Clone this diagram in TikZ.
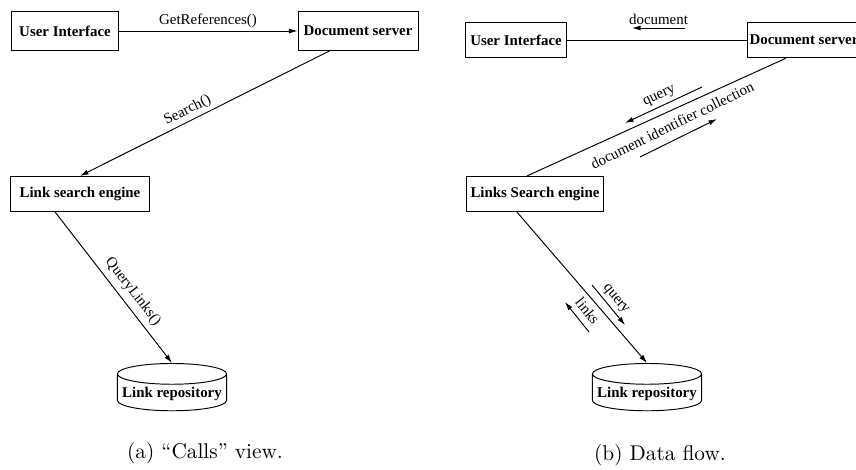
\documentclass[tikz,border=0pt]{standalone}
\usepackage{fontspec}
\usepackage{tikz}
\usetikzlibrary{shapes.geometric, arrows.meta, positioning, calc}
\newfontfamily\diagfont{Liberation Serif}
\tikzset{
  comp/.style={rectangle, draw, font=\diagfont\fontsize{7}{8.4}\selectfont\bfseries,
    inner sep=1pt, line width=0.45pt},
  repo/.style={cylinder, shape border rotate=90, draw, aspect=0.2,
    minimum width=1.8cm, minimum height=0.78cm,
    font=\diagfont\fontsize{7}{8.4}\selectfont\bfseries, inner sep=1pt, line width=0.45pt},
  call/.style={-{Latex[length=4pt, width=2.4pt]}, line width=0.45pt},
  link/.style={line width=0.45pt},
  lbl/.style={font=\diagfont\fontsize{7}{8.4}\selectfont, inner sep=1.5pt},
  caption/.style={font=\normalsize}
}
\begin{document}
\begin{tikzpicture}[x=0.0165cm, y=-0.0165cm]
  \useasboundingbox (0,0) rectangle (856,470);

  % (a) Calls view
  \node[comp, minimum width=1.75cm, minimum height=0.63cm] (uia) at (65,31) {User Interface};
  \node[comp, minimum width=1.98cm, minimum height=0.64cm] (dsa) at (358,31) {Document server};
  \node[comp, minimum width=2.29cm, minimum height=0.58cm] (lsea) at (80,194) {Link search engine};
  \node[repo] (repoa) at (172,394) {Link repository};
  \node[caption] (capa) at (205,453) {(a) ``Calls'' view.};

  \draw[call] (uia) -- node[lbl, above] {GetReferences()} (dsa);
  \draw[call] (dsa.215) -- node[lbl, above, sloped, pos=0.55] {Search()} (lsea.north);
  \draw[call] (lsea.216) -- node[lbl, above=1pt, sloped, pos=0.58] {QueryLinks()} (repoa.north);

  % (b) Data flow
  \node[comp, minimum width=1.67cm, minimum height=0.59cm] (uib) at (516,40) {User Interface};
  \node[comp, minimum width=1.77cm, minimum height=0.59cm] (dsb) at (804,40) {Document server};
  \node[comp, minimum width=2.26cm, minimum height=0.58cm] (lseb) at (535,194) {Links Search engine};
  \node[repo] (repob) at (647,394) {Link repository};
  \node[caption] (capb) at (660,455) {(b) Data flow.};

  \draw[link] (uib) -- (dsb);
  \draw[link] (dsb.225) -- (lseb.114);
  \draw[call] (lseb.225) -- (repob.north);

  % flow arrows
  \coordinate (docs) at (685,28);
  \coordinate (doce) at (632,28);
  \coordinate (qs) at (702,87);
  \coordinate (qe) at (625,123);
  \coordinate (ids) at (640,157);
  \coordinate (ide) at (717,119);
  \coordinate (lqs) at (592,285);
  \coordinate (lqe) at (625,325);
  \coordinate (lks) at (589,332);
  \coordinate (lke) at (565,302);

  \draw[call] (docs) -- node[lbl, above] {document} (doce);
  \draw[call] (qs) -- node[lbl, above, sloped] {query} (qe);
  \draw[call] (ids) -- node[lbl, above=2.5pt, sloped] {document identifier collection} (ide);
  \draw[call] (lqs) -- node[lbl, above, sloped] {query} (lqe);
  \draw[call] (lks) -- node[lbl, above=1.5pt, sloped, pos=0.45] {links} (lke);
\end{tikzpicture}
\end{document}
